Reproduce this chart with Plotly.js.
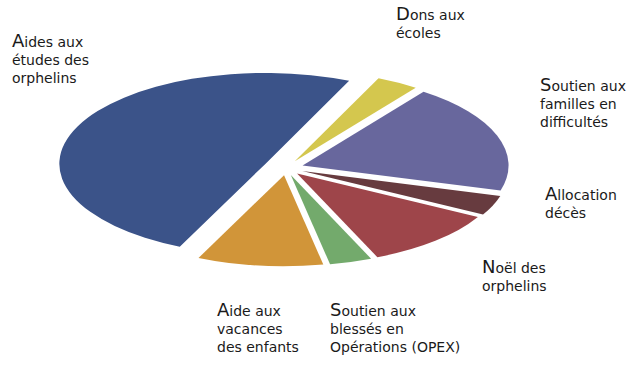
<!DOCTYPE html>
<html>
<head>
<meta charset="utf-8">
<script src="https://cdn.plot.ly/plotly-3.0.1.min.js"></script>
<style>
html,body{margin:0;padding:0;background:#fff;}
#chart{width:633px;height:365px;}
</style>
</head>
<body>
<div id="chart"></div>
<script>
// ---- data ----
var categories = [
  "Dons aux écoles",
  "Soutien aux familles en difficultés",
  "Allocation décès",
  "Noël des orphelins",
  "Soutien aux blessés en Opérations (OPEX)",
  "Aide aux vacances des enfants",
  "Aides aux études des orphelins"
];
var values = [3.3, 19.3, 3.5, 10.6, 3.3, 9.8, 49.5];
var labelLines = [
  ["Dons aux", "écoles"],
  ["Soutien aux", "familles en", "difficultés"],
  ["Allocation", "décès"],
  ["Noël des", "orphelins"],
  ["Soutien aux", "blessés en", "Opérations (OPEX)"],
  ["Aide aux", "vacances", "des enfants"],
  ["Aides aux", "études des", "orphelins"]
];

// ---- styling / layout ----
var colors = ["#D4C74E", "#68679D", "#673B3F", "#9E454A", "#73AA6C", "#D19539", "#3B5389"];
var pulls = [0.085, 0.085, 0.085, 0.08, 0.08, 0.08, 0.11];
// label block top-left in pixels
var labelPos = [[394, 1], [538, 72], [543, 181], [480, 254], [328, 297], [215, 297], [10, 28]];
var W = 633, H = 365;
var target = {cx: 286, cy: 168, rx: 206, ry: 91};

function fmtLabel(lines) {
  var first = lines[0];
  var out = '<span style="font-size:18px">' + first.charAt(0) + '</span>' + first.slice(1);
  for (var i = 1; i < lines.length; i++) out += '<br>' + lines[i];
  return out;
}

var annotations = labelLines.map(function (ln, i) {
  return {
    text: fmtLabel(ln),
    xref: 'paper', yref: 'paper',
    x: labelPos[i][0] / W, y: 1 - labelPos[i][1] / H,
    xanchor: 'left', yanchor: 'top', align: 'left',
    showarrow: false,
    font: {family: 'DejaVu Sans, Verdana, sans-serif', size: 14, color: '#1a1a1a'}
  };
});

var trace = {
  type: 'pie',
  labels: categories,
  values: values,
  sort: false,
  direction: 'clockwise',
  rotation: 24,
  pull: pulls,
  marker: {colors: colors, line: {width: 0}},
  textinfo: 'none',
  hoverinfo: 'none',
  domain: {x: [0.1, 0.9], y: [0.1, 0.9]}
};

var layout = {
  width: W, height: H,
  margin: {l: 0, r: 0, t: 0, b: 0},
  showlegend: false,
  paper_bgcolor: '#ffffff',
  annotations: annotations
};

var gd = document.getElementById('chart');
Plotly.newPlot(gd, [trace], layout, {staticPlot: true, displayModeBar: false}).then(function () {
  var cd0 = gd.calcdata[0][0];
  var sx = target.rx / cd0.r, sy = target.ry / cd0.r;
  var tr = 'translate(' + target.cx + ',' + target.cy + ') scale(' + sx + ',' + sy + ') translate(' + (-cd0.cx) + ',' + (-cd0.cy) + ')';
  gd.querySelectorAll('.pielayer .trace').forEach(function (g) { g.setAttribute('transform', tr); });
});
</script>
</body>
</html>
